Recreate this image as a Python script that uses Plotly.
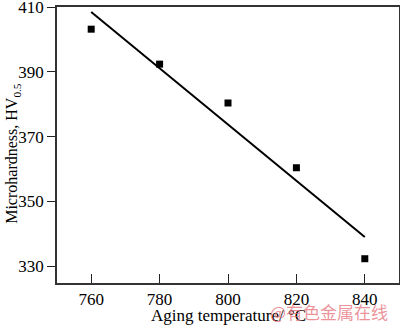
import numpy as np
import plotly.graph_objects as go

temps = [760, 780, 800, 820, 840]
hardness = [403.2, 392.4, 380.4, 360.4, 332.3]
x_ticks = [760, 780, 800, 820, 840]
y_ticks = [330, 350, 370, 390, 410]

slope, intercept = np.polyfit(temps, hardness, 1)
fit_x = [temps[0], temps[-1]]
fit_y = [slope * t + intercept for t in fit_x]

font = "Liberation Serif, Times New Roman, serif"

fig = go.Figure()
fig.add_trace(go.Scatter(x=fit_x, y=fit_y, mode="lines",
                         line=dict(color="black", width=2), showlegend=False,
                         cliponaxis=False))
fig.add_trace(go.Scatter(x=temps, y=hardness, mode="markers",
                         marker=dict(symbol="square", size=7, color="black"),
                         showlegend=False))

fig.update_layout(
    width=400, height=326, autosize=False,
    margin=dict(l=57, r=1, t=7, b=43, autoexpand=False),
    paper_bgcolor="white", plot_bgcolor="white",
    font=dict(family=font, size=17, color="black"),
    xaxis=dict(range=[750, 850], tickvals=x_ticks, ticks="inside", ticklen=9,
               tickwidth=1.2, tickcolor="#222", showline=True, linecolor="#333",
               linewidth=1.5, mirror=True, showgrid=False, zeroline=False,
               automargin=False, ticklabeloverflow="allow",
               tickfont=dict(family=font, size=17)),
    yaxis=dict(range=[324.8, 410.05], tickvals=y_ticks, ticks="outside", ticklen=8,
               tickwidth=1.2, tickcolor="#222", showline=True, linecolor="#333",
               linewidth=1.5, mirror=True, showgrid=False, zeroline=False,
               automargin=False, ticklabelstandoff=0, ticklabeloverflow="allow",
               tickfont=dict(family=font, size=17)),
    annotations=[
        dict(text="Microhardness, HV<sub>0.5</sub>", textangle=-90,
             xref="paper", yref="paper", x=-0.13, y=0.47,
             xanchor="center", yanchor="middle", showarrow=False,
             font=dict(family=font, size=16)),
        dict(text="Aging temperature/ °C", xref="paper", yref="paper",
             x=0.5, y=-0.075, xanchor="center", yanchor="top", showarrow=False,
             font=dict(family=font, size=17)),
        dict(text="@有色金属在线", xref="paper", yref="paper",
             x=0.975, y=-0.05, xanchor="right", yanchor="top", showarrow=False,
             font=dict(family="Noto Sans CJK SC", size=17,
                       color="rgba(230,110,120,0.75)")),
    ],
)

fig.write_html("out.html", config={"responsive": False, "displayModeBar": False},
               post_script="document.body.style.margin='0';document.body.style.overflow='hidden';")
